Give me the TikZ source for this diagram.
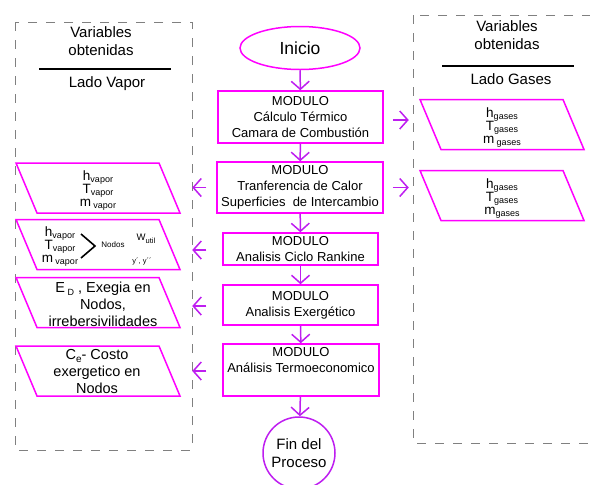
\documentclass[tikz,border=0pt]{standalone}
\usepackage{fontspec}
\setmainfont{Liberation Sans}
\usetikzlibrary{shapes.geometric,arrows.meta}
\definecolor{mag}{RGB}{255,0,255}
\definecolor{arrc}{RGB}{190,30,240}
\definecolor{dashc}{RGB}{128,128,128}
\newcommand{\fs}[2]{\fontsize{#1}{#2}\selectfont}
\newcommand{\lsub}[1]{\raisebox{-2pt}[0pt][0pt]{\fontsize{9}{9}\selectfont #1}}
\newcommand{\paral}[2]{\draw[para] (#1-82,#2-25) -- (#1+61,#2-25) -- (#1+82,#2+25) -- (#1-61,#2+25) -- cycle;}
\begin{document}
\begin{tikzpicture}[x=1pt,y=-1pt,
 modbox/.style={draw=mag, line width=1.5pt, rectangle, align=center, inner sep=0pt, font=\fs{13}{16}},
 arr/.style={draw=arrc, line width=1.5pt, -{Straight Barb[length=8pt,width=18pt]}},
 dbox/.style={draw=dashc, line width=1pt, dash pattern=on 9pt off 9pt},
 para/.style={draw=mag, line width=1.5pt},
 ptext/.style={align=center, inner sep=0pt, font=\fs{13.5}{13}},
 title/.style={align=center, inner sep=0pt, font=\fs{15}{18}},
]
\useasboundingbox (0,0) rectangle (590,485);
\clip (0,0) rectangle (590,485);
% dashed frames
\draw[dbox] (15,22) rectangle (192,450);
\draw[dbox] (413,15) rectangle (605,443);
% titles
\node[title] (lt) at (101,41) {Variables\\obtenidas};
\draw[line width=1.5pt] (39,69) -- (171,69);
\node[title] (lv) at (107,84) {Lado Vapor};
\node[title] (rt) at (507,35) {Variables\\obtenidas};
\draw[line width=1.5pt] (442,66) -- (574,66);
\node[title] (rg) at (511,79) {Lado Gases};
% flow
\node[ellipse, draw=mag, line width=1.5pt, minimum width=120pt, minimum height=43pt, inner sep=0pt, font=\fs{17.5}{20}] (ini) at (300,48) {Inicio};
\node[modbox, minimum width=165pt, minimum height=52pt] (m1) at (300.5,117) {MODULO\\Cálculo Térmico\\Camara de Combustión};
\node[modbox, minimum width=166pt, minimum height=51pt] (m2) at (300,187.5) {MODULO\\Tranferencia de Calor\\Superficies~ de Intercambio};
\node[modbox, minimum width=155pt, minimum height=32pt] (m3) at (300.5,249) {MODULO\\Analisis Ciclo Rankine};
\node[modbox, minimum width=155pt, minimum height=40pt] (m4) at (300.5,305) {MODULO\\Analisis Exergético};
\node[modbox, minimum width=156pt, minimum height=52pt] (m5) at (301,370) {MODULO\\Análisis Termoeconomico\\\strut};
\node[circle, draw=arrc, line width=1.5pt, minimum size=72pt, inner sep=0pt, align=center, font=\fs{15}{17.5}] (fin) at (299,453) {Fin del\\Proceso};
\draw[arr] (ini) -- (m1);
\draw[arr] (m1) -- (m2);
\draw[arr] (m2) -- (m3);
\draw[arr] (m3) -- (m4);
\draw[arr] (m4) -- (m5);
\draw[arr] (m5) -- (fin);
% right side
\paral{502}{124.5}
\paral{502}{195.5}
\node[ptext] (r1) at (502,126) {h\lsub{gases}\\T\lsub{gases}\\m\,\lsub{gases}};
\node[ptext] (r2) at (502,197) {h\lsub{gases}\\T\lsub{gases}\\m\lsub{gases}};
\draw[arr] ([xshift=9pt,yshift=-3pt]m1.east) -- ([xshift=25pt,yshift=-3pt]m1.east);
\draw[arr] ([xshift=9pt]m2.east) -- ([xshift=25pt]m2.east);
% left side
\paral{98}{188}
\paral{98}{244.5}
\paral{98}{302.5}
\paral{98}{371}
\node[ptext] (l1) at (98,189) {h\lsub{vapor}\\T\lsub{vapor}\\m\,\lsub{vapor}};
\node[ptext] (l2) at (60,245) {h\lsub{vapor}\\T\lsub{vapor}\\m\,\lsub{vapor}};
\draw[line width=1.6pt] (81,234) -- (95,246) -- (81,258);
\node[inner sep=0pt, font=\fs{8}{8}] (l2n) at (113,245) {Nodos};
\node[inner sep=0pt, font=\fs{9.5}{9.5}] (l2w) at (146,239) {W\raisebox{-3pt}{\fs{7.5}{7.5}util}};
\node[inner sep=0pt, font=\fs{7.5}{7.5}] (l2y) at (142,262) {y´, y´´};
\node[align=center, inner sep=0pt, font=\fs{14.5}{17}] (l3) at (103,304) {E\,\raisebox{-3pt}{\fs{9}{9}D} , Exegia en\\Nodos,\\irrebersivilidades};
\node[align=center, inner sep=0pt, font=\fs{14.5}{17}] (l4) at (97,372) {C\raisebox{-3pt}{\fs{10}{10}e}- Costo\\exergetico en\\Nodos};
\draw[arr] ([xshift=-10pt]m2.west) -- ([xshift=-24pt]m2.west);
\draw[arr] ([xshift=-16pt,yshift=-1pt]m3.west) -- ([xshift=-30pt,yshift=-1pt]m3.west);
\draw[arr] ([xshift=-16pt,yshift=-1pt]m4.west) -- ([xshift=-30pt,yshift=-1pt]m4.west);
\draw[arr] ([xshift=-16pt,yshift=-1pt]m5.west) -- ([xshift=-30pt,yshift=-1pt]m5.west);
\end{tikzpicture}
\end{document}
